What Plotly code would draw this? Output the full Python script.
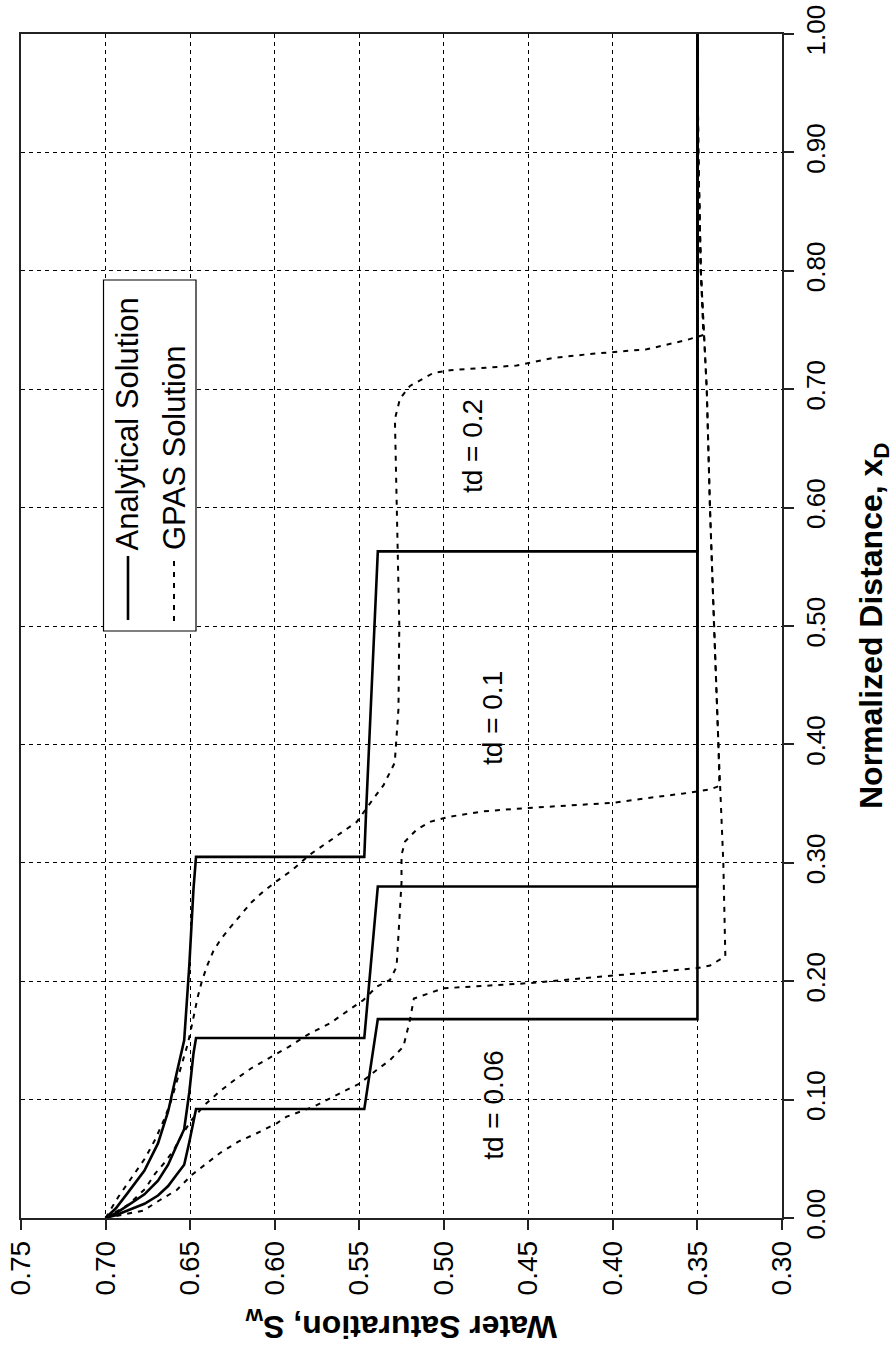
import plotly.graph_objects as go

# ---------------- data (distance x_D, water saturation S_w) ----------------
# Analytical solution, td = 0.06
a006_dist = [0.000, 0.0024, 0.0063, 0.012, 0.019, 0.027, 0.0366, 0.045, 0.064, 0.083, 0.092, 0.092, 0.168, 0.168, 1.000]
a006_sat = [0.700, 0.694, 0.687, 0.677, 0.669, 0.663, 0.658, 0.6535, 0.6505, 0.648, 0.6465, 0.547, 0.539, 0.350, 0.350]
# Analytical solution, td = 0.1
a01_dist = [0.000, 0.004, 0.0105, 0.020, 0.0315, 0.045, 0.061, 0.075, 0.106, 0.139, 0.152, 0.152, 0.280, 0.280, 1.000]
a01_sat = [0.700, 0.694, 0.687, 0.677, 0.669, 0.663, 0.658, 0.6535, 0.6505, 0.648, 0.6465, 0.547, 0.539, 0.350, 0.350]
# Analytical solution, td = 0.2
a02_dist = [0.000, 0.008, 0.021, 0.040, 0.063, 0.090, 0.122, 0.150, 0.213, 0.278, 0.305, 0.305, 0.341, 0.428, 0.514, 0.540, 0.563, 0.563, 1.000]
a02_sat = [0.700, 0.694, 0.687, 0.677, 0.669, 0.663, 0.658, 0.6535, 0.6505, 0.648, 0.6465, 0.547, 0.546, 0.5432, 0.5407, 0.540, 0.539, 0.350, 0.350]

# GPAS solution, td = 0.06
g006_dist = [0.000, 0.0062, 0.0152, 0.0236, 0.0363, 0.0448, 0.0549, 0.0645, 0.0716, 0.080, 0.0856, 0.094, 0.1025,
             0.1138, 0.125, 0.1334, 0.1447, 0.1672, 0.1853, 0.194, 0.1983, 0.2047, 0.2111, 0.2133, 0.221,
             0.300, 0.360, 0.400, 0.500, 0.600, 0.700, 0.800, 0.900, 1.000]
g006_sat = [0.700, 0.6777, 0.6678, 0.6579, 0.6491, 0.6412, 0.6323, 0.6215, 0.6106, 0.5988, 0.5929, 0.5771, 0.5653,
            0.5495, 0.5397, 0.5318, 0.5239, 0.5200, 0.5177, 0.5003, 0.4504, 0.3997, 0.3498, 0.3425, 0.3335,
            0.3347, 0.3366, 0.3376, 0.3402, 0.3426, 0.3445, 0.3480, 0.3495, 0.3500]
# GPAS solution, td = 0.1
g01_dist = [0.000, 0.0113, 0.0245, 0.0373, 0.0473, 0.0567, 0.0698, 0.0828, 0.0958, 0.1072, 0.1169, 0.1267, 0.1347,
            0.1444, 0.156, 0.1644, 0.1754, 0.184, 0.1954, 0.201, 0.2123, 0.2329, 0.263, 0.283, 0.3066, 0.318,
            0.3281, 0.3346, 0.339, 0.3435, 0.3463, 0.3485, 0.3507, 0.355, 0.3585, 0.362, 0.365,
            0.400, 0.500, 0.600, 0.700, 0.800, 0.900, 1.000]
g01_sat = [0.700, 0.6865, 0.6767, 0.6708, 0.6648, 0.6599, 0.6550, 0.6491, 0.6412, 0.6323, 0.6234, 0.6136, 0.6038,
           0.5919, 0.5791, 0.5673, 0.5564, 0.5476, 0.5397, 0.5318, 0.5279, 0.5270, 0.5260, 0.5250, 0.5250, 0.5229,
           0.5160, 0.5081, 0.4963, 0.4766, 0.4504, 0.4273, 0.3997, 0.3780, 0.3583, 0.3425, 0.3370,
           0.3376, 0.3402, 0.3426, 0.3445, 0.3480, 0.3495, 0.3500]
# GPAS solution, td = 0.2
g02_dist = [0.000, 0.0177, 0.034, 0.0503, 0.0667, 0.0828, 0.099, 0.1153, 0.1318, 0.148, 0.1639, 0.1867, 0.1997,
            0.2128, 0.2257, 0.2355, 0.245, 0.255, 0.2663, 0.276, 0.2843, 0.294, 0.307, 0.315, 0.3247, 0.3345,
            0.354, 0.3654, 0.3845, 0.430, 0.500, 0.5577, 0.6444, 0.6747, 0.692, 0.7027, 0.7137, 0.716, 0.720,
            0.7265, 0.7297, 0.7337, 0.7416, 0.7458, 0.800, 0.900, 1.000]
g02_sat = [0.700, 0.6925, 0.6846, 0.6767, 0.6705, 0.6655, 0.6612, 0.6578, 0.6545, 0.6512, 0.6488, 0.6455, 0.6431,
           0.6400, 0.6362, 0.6318, 0.6265, 0.6205, 0.6140, 0.6065, 0.5990, 0.5895, 0.5791, 0.5710, 0.5614, 0.5515,
           0.5417, 0.5357, 0.5290, 0.5268, 0.5263, 0.5273, 0.5285, 0.5289, 0.5259, 0.5200, 0.5062, 0.4963, 0.4569,
           0.4352, 0.4135, 0.3800, 0.3563, 0.3465, 0.3480, 0.3495, 0.3500]

td_labels = ["td = 0.06", "td = 0.1", "td = 0.2"]
td_label_sat = [0.471, 0.4715, 0.483]
td_label_dist = [0.0954, 0.4223, 0.6516]

sat_ticks = [0.75, 0.70, 0.65, 0.60, 0.55, 0.50, 0.45, 0.40, 0.35, 0.30]
dist_ticks = [0.0, 0.1, 0.2, 0.3, 0.4, 0.5, 0.6, 0.7, 0.8, 0.9, 1.0]

# ---------------- layout geometry ----------------
W, H = 896, 1345
L, R, T, B = 21, 782, 34, 1218
FONT = "Liberation Sans, Arial, sans-serif"
GPAS_DASH = "5px,6px"


def pxx(x):
    return (x - L) / (R - L)


def pxy(y):
    return (B - y) / (B - T)


fig = go.Figure()

for d, s in [(a006_dist, a006_sat), (a01_dist, a01_sat), (a02_dist, a02_sat)]:
    fig.add_trace(go.Scatter(x=s, y=d, mode="lines", name="Analytical Solution",
                             line=dict(color="black", width=2.6, shape="linear"), hoverinfo="skip"))
for d, s in [(g006_dist, g006_sat), (g01_dist, g01_sat), (g02_dist, g02_sat)]:
    fig.add_trace(go.Scatter(x=s, y=d, mode="lines", name="GPAS Solution",
                             line=dict(color="black", width=2, dash=GPAS_DASH), hoverinfo="skip"))

axis_common = dict(
    showline=True, linecolor="#222", linewidth=1.5, mirror=True,
    ticks="outside", ticklen=10, tickwidth=1.5, tickcolor="#222",
    showgrid=True, gridcolor="black", gridwidth=1, griddash="4px,4px",
    zeroline=False, automargin=False, tickangle=-90, tickformat=".2f",
)

fig.update_layout(
    template="none",
    width=W, height=H,
    margin=dict(l=L, r=W - R, t=T, b=H - B, pad=0),
    paper_bgcolor="white", plot_bgcolor="white",
    showlegend=False,
    font=dict(family=FONT, color="black"),
    xaxis=dict(range=[0.75, 0.30], tickvals=sat_ticks,
               tickfont=dict(size=28, family=FONT, color="black"), **axis_common),
    yaxis=dict(range=[0, 1], side="right", tickvals=dist_ticks,
               tickfont=dict(size=26, family=FONT, color="black"), **axis_common),
)

annotations = []
# axis titles
annotations.append(dict(text="<b>Normalized Distance, x<sub>D</sub></b>", xref="paper", yref="paper",
                        x=pxx(873), y=0.5, xanchor="center", yanchor="middle", textangle=-90,
                        showarrow=False, font=dict(size=32, family=FONT, color="black")))
annotations.append(dict(text="<b>Water Saturation, S<sub>w</sub></b>", xref="paper", yref="paper",
                        x=0.5, y=pxy(1325), xanchor="center", yanchor="middle", textangle=180,
                        showarrow=False, font=dict(size=32, family=FONT, color="black")))
# td labels
for t, s, d in zip(td_labels, td_label_sat, td_label_dist):
    annotations.append(dict(text=t, x=s, y=d, xref="x", yref="y", textangle=-90, showarrow=False,
                            xanchor="center", yanchor="middle",
                            font=dict(size=28, family=FONT, color="black")))
# legend texts
annotations.append(dict(text="Analytical Solution", xref="paper", yref="paper", x=pxx(127), y=pxy(552),
                        xanchor="center", yanchor="bottom", textangle=-90, showarrow=False,
                        font=dict(size=31, family=FONT, color="black")))
annotations.append(dict(text="GPAS Solution", xref="paper", yref="paper", x=pxx(174), y=pxy(552),
                        xanchor="center", yanchor="bottom", textangle=-90, showarrow=False,
                        font=dict(size=31, family=FONT, color="black")))
fig.update_layout(annotations=annotations)

shapes = [
    dict(type="rect", xref="paper", yref="paper", x0=pxx(103.5), x1=pxx(196), y0=pxy(631), y1=pxy(280),
         line=dict(color="black", width=1.2), fillcolor="white", layer="above"),
    dict(type="line", xref="paper", yref="paper", x0=pxx(128), x1=pxx(128), y0=pxy(620), y1=pxy(556),
         line=dict(color="black", width=2.6), layer="above"),
    dict(type="line", xref="paper", yref="paper", x0=pxx(174), x1=pxx(174), y0=pxy(621), y1=pxy(556),
         line=dict(color="black", width=2, dash=GPAS_DASH), layer="above"),
]
fig.update_layout(shapes=shapes)

fig.write_html("out.html")
